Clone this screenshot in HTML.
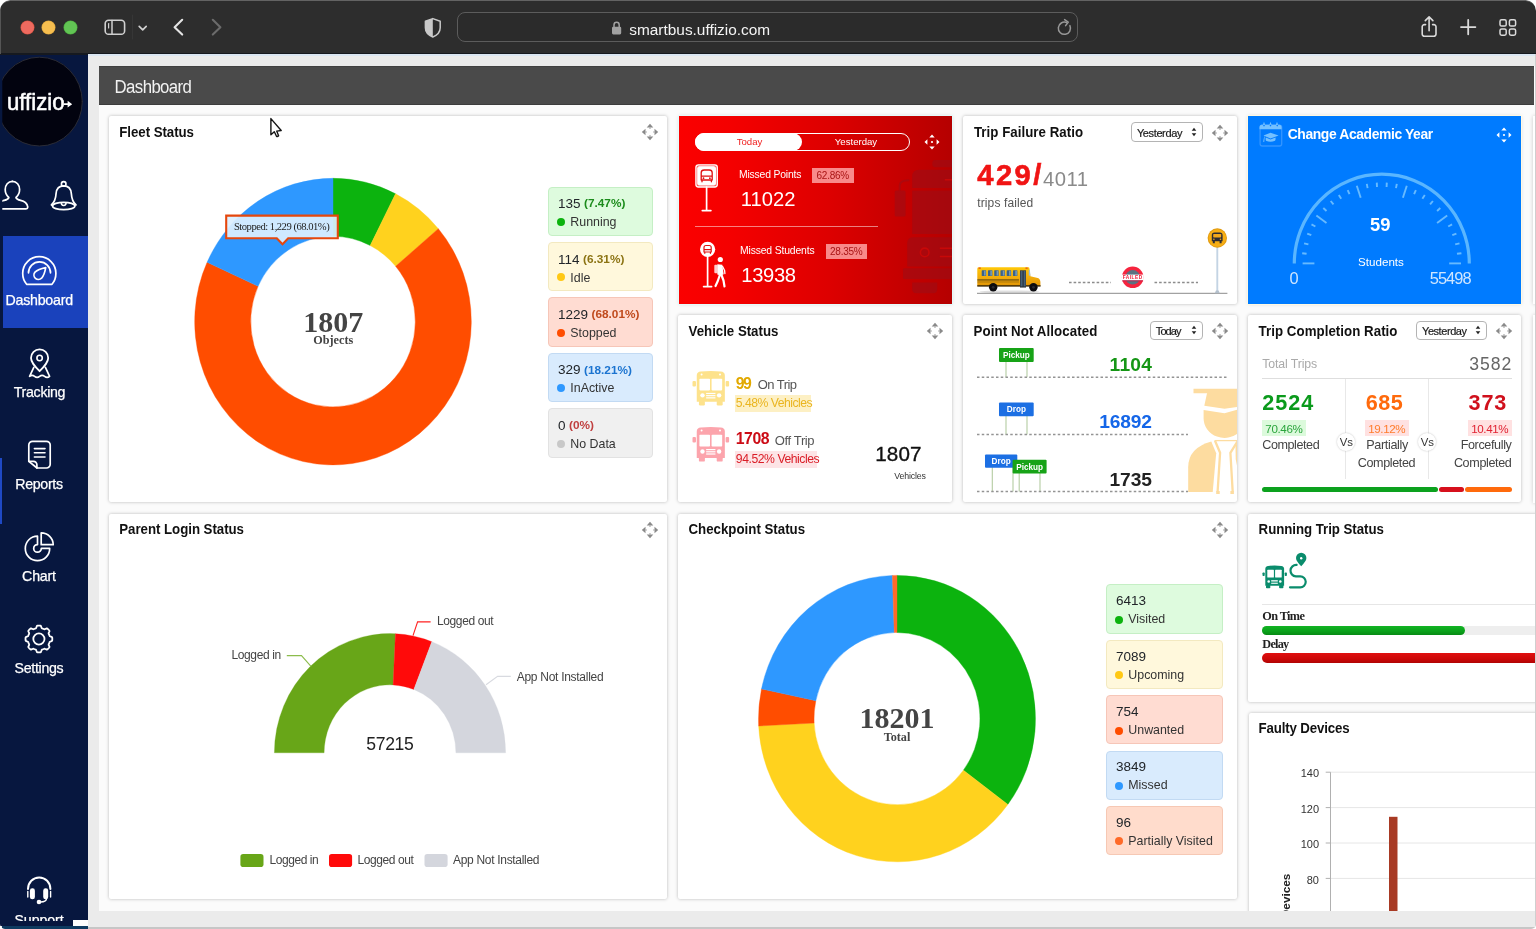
<!DOCTYPE html>
<html lang="en">
<head>
<meta charset="utf-8">
<title>Dashboard</title>
<style>
*{box-sizing:border-box;margin:0;padding:0}
html,body{width:1536px;height:929px;overflow:hidden;background:#fff}
body{position:relative;font-family:"Liberation Sans",sans-serif;color:#222}
.abs{position:absolute}
.t{position:absolute;white-space:nowrap;line-height:1}
svg{overflow:visible}
#win{position:absolute;left:0;top:0;width:1536px;height:929px;border-radius:10.5px 10.5px 5px 5px;overflow:hidden;background:#ebebeb;will-change:transform}
#chrome{position:absolute;left:0;top:0;width:1536px;height:54px;background:#2d2d2d;border-top:1px solid #636363;border-radius:10.5px 10.5px 0 0}
#urlbar{position:absolute;left:457px;top:12.2px;width:621px;height:30px;border:1px solid #5c5c5c;border-radius:8px;background:#2b2b2b}
#side{position:absolute;left:0;top:54.5px;width:87.8px;height:865.5px;background:#07173f}
#content{position:absolute;left:99px;top:66px;width:1437px;height:844.5px;background:#fbfbfb;overflow:hidden}
#inner{position:absolute;left:-99px;top:-66px;width:1536px;height:929px}
#hdr{position:absolute;left:99px;top:66px;width:1435px;height:38.8px;background:#4a4a4a;border-bottom:1px solid #3c3c3c;border-top:1px solid #404040}
.card{position:absolute;background:#fff;border-radius:2px;box-shadow:0 0 3.5px rgba(0,0,0,.27)}
</style>
</head>
<body>
<div id="win">
<div id="chrome"></div>
<div class="abs" style="left:0;top:53px;width:1536px;height:1.5px;background:#16191f"></div>
<div class="abs" style="left:21px;top:21px;width:13px;height:13px;border-radius:50%;background:#ee6a5f;box-shadow:0 0 0 .5px #d0503f"></div>
<div class="abs" style="left:42px;top:21px;width:13px;height:13px;border-radius:50%;background:#f6be4f;box-shadow:0 0 0 .5px #d6a03a"></div>
<div class="abs" style="left:63.5px;top:21px;width:13px;height:13px;border-radius:50%;background:#62c554;box-shadow:0 0 0 .5px #4aa73c"></div>
<div id="urlbar"></div>
<div class="t" style="left:629.3px;top:21.61px;font-size:15.4px;color:#f4f4f4;">smartbus.uffizio.com</div>
<svg class="abs" style="left:0;top:0" width="1536" height="54" viewBox="0 0 1536 54" fill="none" stroke-linecap="round" stroke-linejoin="round">
<rect x="105.2" y="20.3" width="19.4" height="14" rx="3.4" stroke="#cfcfcf" stroke-width="1.6"/>
<path d="M112 20.5v13.6" stroke="#cfcfcf" stroke-width="1.5"/><path d="M108.6 23.5v4.5" stroke="#cfcfcf" stroke-width="1.2"/>
<path d="M132.5 15v24" stroke="#363636" stroke-width="1"/>
<path d="M139.2 26.4l3.5 3.5 3.5-3.5" stroke="#d0d0d0" stroke-width="1.7"/>
<path d="M182.2 19.8l-7.6 7.4 7.6 7.4" stroke="#e4e4e4" stroke-width="2.1"/>
<path d="M212.8 19.8l7.6 7.4-7.6 7.4" stroke="#6b6b6b" stroke-width="2.1"/>
<path d="M432.8 18.6l7.4 2.6v6.6c0 4.4-3 7.4-7.4 9.2c-4.4-1.8-7.4-4.8-7.4-9.2v-6.6z" stroke="#c9c9c9" stroke-width="1.5"/>
<path d="M432.8 18.6v18.4c-4.4-1.8-7.4-4.8-7.4-9.2v-6.6z" fill="#c9c9c9" stroke="none"/>
<rect x="612" y="26.8" width="9.2" height="7.6" rx="1.3" fill="#a2a2a2"/><path d="M614 27v-2.1a2.6 2.6 0 0 1 5.2 0V27" stroke="#a2a2a2" stroke-width="1.5"/>
<path d="M1069.9 25.6a6.1 6.1 0 1 1-3.2-3" stroke="#979797" stroke-width="1.5"/><path d="M1064.6 19.6l3.6 2.6-2.6 3.4" stroke="#979797" stroke-width="1.5"/>
<path d="M1425.6 24.6h-1.2a2.2 2.2 0 0 0-2.2 2.2v7.3a2.2 2.2 0 0 0 2.2 2.2h9.4a2.2 2.2 0 0 0 2.2-2.2v-7.3a2.2 2.2 0 0 0-2.2-2.2h-1.2" stroke="#dadada" stroke-width="1.6"/>
<path d="M1429.1 30.8V17.2M1425.3 20.6l3.8-3.7 3.8 3.7" stroke="#dadada" stroke-width="1.6"/>
<path d="M1461 27.1h14.4M1468.2 19.9v14.4" stroke="#dadada" stroke-width="1.8"/>
<rect x="1500" y="19.8" width="6.2" height="6.2" rx="1.6" stroke="#dadada" stroke-width="1.5"/>
<rect x="1500" y="29" width="6.2" height="6.2" rx="1.6" stroke="#dadada" stroke-width="1.5"/>
<rect x="1509.4" y="19.8" width="6.2" height="6.2" rx="1.6" stroke="#dadada" stroke-width="1.5"/>
<rect x="1509.4" y="29" width="6.2" height="6.2" rx="1.6" stroke="#dadada" stroke-width="1.5"/>
</svg>
<div id="side"></div>
<div class="abs" style="left:0px;top:919.5px;width:73px;height:6.5px;background:#07173f;"></div>
<div class="abs" style="left:73.2px;top:920.3px;width:14.6px;height:6px;background:#fdfdfd;"></div>
<div class="abs" style="left:2px;top:926px;width:86px;height:3px;background:#0d3a60;"></div>
<div class="abs" style="left:2.7px;top:236px;width:85.1px;height:91.6px;background:#1a42bc;"></div>
<div class="abs" style="left:0px;top:458.3px;width:2.3px;height:66px;background:#1f49c4;"></div>
<svg class="abs" style="left:0;top:54px" width="88" height="875" viewBox="0 54 88 875" fill="none" stroke="#fff" stroke-width="1.7" stroke-linecap="round" stroke-linejoin="round">
<defs><clipPath id="cl2"><rect x="2.3" y="54" width="86" height="875"/></clipPath></defs>
<g clip-path="url(#cl2)"><ellipse cx="39.4" cy="101.6" rx="42.9" ry="44.4" fill="#02030f" stroke="#2b2c36" stroke-width="1"/></g>
<path d="M64.2 104.2h4.2" stroke-width="1.7"/><path d="M67.6 100.8l4.6 3.4-4.6 3.4z" fill="#fff" stroke="none"/>
<g clip-path="url(#cl2)"><path d="M12.4 181.4c4.3 0 7.2 3.5 7.2 8.2c0 3.4-1.7 6.3-3.6 7.9c0.4 1.7 2 2.3 4.6 2.9c4.2 1 6.6 3.4 7.1 6.3c0.2 1.5-0.7 2.2-2 2.2H0"/><path d="M12.4 181.4c-4.3 0-7.2 3.5-7.2 8.2c0 3.4 1.7 6.3 3.6 7.9c-0.4 1.7-2 2.3-4.6 2.9c-1.4 0.3-2.4 0.7-3.4 1.2"/></g>
<circle cx="63.7" cy="183.9" r="2.3" stroke-width="1.6"/>
<path d="M51.4 205c3.4-3 4.4-7 4.7-11.6c0.4-4.8 3.2-7.6 7.6-7.6s7.2 2.8 7.6 7.6c0.3 4.6 1.3 8.6 4.7 11.6" stroke-width="1.7"/>
<ellipse cx="63.7" cy="206" rx="11.2" ry="3.7" stroke-width="1.7"/><path d="M61.3 202.8a2.4 2.6 0 0 0 4.8 0" stroke-width="1.5"/>
<path d="M26.6 284.3c-2.6-3-3.9-6.8-3.9-11a16.6 16.6 0 0 1 33.2 0c0 4.2-1.3 8-3.9 11z"/>
<path d="M28.5 272.8a11 11 0 0 1 22 0" stroke-width="1.7"/>
<path d="M45.7 267.7c-0.8 4.7-2 8.2-4.1 10.5a4.5 4.5 0 0 1-6.6-6.1c2.3-2.1 5.8-3.4 10.7-4.4z" stroke-width="1.7"/>
<path d="M39.6 371.2c-5.2-5.3-8.6-8.9-8.6-13.2a8.6 8.6 0 0 1 17.2 0c0 4.3-3.4 7.9-8.6 13.2z" stroke-width="1.8"/><circle cx="39.6" cy="358" r="2.7" stroke-width="1.6"/>
<path d="M33.8 367.3L29.6 376.3q2.5-2 5 0t5 0t5 0t5 0L45.4 367.3" stroke-width="1.7"/>
<path d="M32.6 441.3h13.8a3.8 3.8 0 0 1 3.8 3.8v19.1a3.8 3.8 0 0 1-3.8 3.8h-9.4l-8.2-6.6v-16.3a3.8 3.8 0 0 1 3.8-3.8z"/>
<path d="M28.9 461.3h4.6a3.4 3.4 0 0 1 3.4 3.4v3.2" stroke-width="1.7"/>
<path d="M34.4 448.6h10.6M34.4 452.8h10.6M34.4 457h10.6" stroke-width="1.6"/>
<path d="M37.5 536.2A12.2 12.2 0 1 0 49.7 548.4H41.3A3.8 3.8 0 1 1 37.5 544.6Z"/>
<path d="M41.2 532.9v11.8h12a12 11.8 0 0 0-12-11.8z" stroke-width="1.7"/>
<path d="M38.9 625.6 L39.56 625.62 L40.21 625.66 L40.84 625.92 L41.29 626.99 L41.64 628.06 L42.12 628.38 L42.64 628.55 L43.15 628.74 L43.65 628.97 L44.13 629.21 L44.7 629.32 L45.71 628.81 L46.77 628.38 L47.4 628.64 L47.9 629.07 L48.38 629.52 L48.83 630 L49.26 630.5 L49.52 631.13 L49.09 632.19 L48.58 633.2 L48.69 633.77 L48.93 634.25 L49.16 634.75 L49.35 635.26 L49.52 635.78 L49.84 636.26 L50.91 636.61 L51.98 637.06 L52.24 637.69 L52.28 638.34 L52.3 639 L52.28 639.66 L52.24 640.31 L51.98 640.94 L50.91 641.39 L49.84 641.74 L49.52 642.22 L49.35 642.74 L49.16 643.25 L48.93 643.75 L48.69 644.23 L48.58 644.8 L49.09 645.81 L49.52 646.87 L49.26 647.5 L48.83 648 L48.38 648.48 L47.9 648.93 L47.4 649.36 L46.77 649.62 L45.71 649.19 L44.7 648.68 L44.13 648.79 L43.65 649.03 L43.15 649.26 L42.64 649.45 L42.12 649.62 L41.64 649.94 L41.29 651.01 L40.84 652.08 L40.21 652.34 L39.56 652.38 L38.9 652.4 L38.24 652.38 L37.59 652.34 L36.96 652.08 L36.51 651.01 L36.16 649.94 L35.68 649.62 L35.16 649.45 L34.65 649.26 L34.15 649.03 L33.67 648.79 L33.1 648.68 L32.09 649.19 L31.03 649.62 L30.4 649.36 L29.9 648.93 L29.42 648.48 L28.97 648 L28.54 647.5 L28.28 646.87 L28.71 645.81 L29.22 644.8 L29.11 644.23 L28.87 643.75 L28.64 643.25 L28.45 642.74 L28.28 642.22 L27.96 641.74 L26.89 641.39 L25.82 640.94 L25.56 640.31 L25.52 639.66 L25.5 639 L25.52 638.34 L25.56 637.69 L25.82 637.06 L26.89 636.61 L27.96 636.26 L28.28 635.78 L28.45 635.26 L28.64 634.75 L28.87 634.25 L29.11 633.77 L29.22 633.2 L28.71 632.19 L28.28 631.13 L28.54 630.5 L28.97 630 L29.42 629.52 L29.9 629.07 L30.4 628.64 L31.03 628.38 L32.09 628.81 L33.1 629.32 L33.67 629.21 L34.15 628.97 L34.65 628.74 L35.16 628.55 L35.68 628.38 L36.16 628.06 L36.51 626.99 L36.96 625.92 L37.59 625.66 L38.24 625.62 L38.9 625.6Z" stroke-width="1.8"/><circle cx="38.9" cy="639" r="5.6" stroke-width="1.8"/>
<path d="M28 889a11.2 11.6 0 0 1 22.4 0" stroke-width="2"/>
<rect x="29.9" y="888.3" width="5" height="11" rx="2.4" fill="#fff" stroke="none"/><rect x="43.2" y="888.3" width="5" height="11" rx="2.4" fill="#fff" stroke="none"/>
<path d="M27.8 891.5v5.5M50.6 891.5v5.5" stroke-width="1.4"/>
<path d="M46.5 898.5c0 2.5-2 3.4-6 3.5" stroke-width="1.5"/><circle cx="39" cy="902" r="2.3" fill="#fff" stroke="none"/>
<text x="7" y="110.3" font-family="Liberation Sans, sans-serif" font-size="23.6" fill="#fff" stroke="#fff" stroke-width=".55" textLength="57.5" lengthAdjust="spacingAndGlyphs">uffizio</text>
</svg>
<div class="t" style="left:5.6px;top:292.73px;font-size:14.2px;color:#fff;letter-spacing:-0.246px;-webkit-text-stroke:.25px #fff;">Dashboard</div>
<div class="t" style="left:13.8px;top:384.93px;font-size:14.2px;color:#fff;letter-spacing:-0.317px;-webkit-text-stroke:.25px #fff;">Tracking</div>
<div class="t" style="left:15.2px;top:476.63px;font-size:14.2px;color:#fff;letter-spacing:-0.302px;-webkit-text-stroke:.25px #fff;">Reports</div>
<div class="t" style="left:22.1px;top:568.73px;font-size:14.2px;color:#fff;letter-spacing:-0.18px;-webkit-text-stroke:.25px #fff;">Chart</div>
<div class="t" style="left:14.5px;top:660.73px;font-size:14.2px;color:#fff;letter-spacing:-0.301px;-webkit-text-stroke:.25px #fff;">Settings</div>
<div class="abs" style="left:0;top:905px;width:88px;height:15.5px;overflow:hidden"><div class="t" style="left:14.5px;top:7.63px;font-size:14.2px;color:#fff;letter-spacing:-0.088px;-webkit-text-stroke:.25px #fff;">Support</div></div>
<div class="abs" style="left:88px;top:54.3px;width:1448px;height:1.4px;background:#dbe6f2"></div>
<div id="content"><div id="inner">
<div id="hdr"></div>
<div class="t" style="left:114.6px;top:80.43px;font-size:16.8px;color:#f2f2f2;letter-spacing:-0.598px;transform:scaleY(1.04);transform-origin:0 14.22px;">Dashboard</div>
<div class="abs" style="left:1533.3px;top:116px;width:6px;height:188px;background:#fff;box-shadow:0 0 4px rgba(0,0,0,.2)"></div><div class="abs" style="left:1533.3px;top:315px;width:6px;height:187.5px;background:#fff;box-shadow:0 0 4px rgba(0,0,0,.2)"></div>
<div class="card" style="left:109.2px;top:116.1px;width:558.1px;height:386.3px;"></div>
<div class="t" style="left:119.3px;top:126.19px;font-size:13.3px;color:#111;font-weight:bold;letter-spacing:-0.062px;transform:scaleY(1.06);transform-origin:0 11.26px;">Fleet Status</div>
<svg class="abs" style="left:640.7px;top:123.30000000000001px" width="18" height="18" viewBox="-9 -9 18 18"><g fill="#8a8a8a" transform="scale(1)"><path d="M0-8.2l3.3 3.7h-6.6zM0 8.2l-3.3-3.7h6.6zM-8.2 0l3.7-3.3v6.6zM8.2 0l-3.7 3.3v-6.6z"/><path d="M-.6-4.5h1.2v1.5h-1.2zM-.6 3h1.2v1.5h-1.2zM-4.5-.6h1.5v1.2h-1.5zM3-.6h1.5v1.2h-1.5z" opacity=".7"/></g></svg>
<svg class="abs" style="left:109px;top:116px" width="558" height="387" viewBox="109 116 558 387">
<path d="M333 178.3A138.3 143.3 0 0 1 395.56 193.8L370.23 245.53A82.3 85.3 0 0 0 333 236.3Z" fill="#0cb30e" stroke="#0cb30e" stroke-width=".4"/><path d="M395.56 193.8A138.3 143.3 0 0 1 438.33 228.74L395.68 266.32A82.3 85.3 0 0 0 370.23 245.53Z" fill="#ffd21e" stroke="#ffd21e" stroke-width=".4"/><path d="M438.33 228.74A138.3 143.3 0 1 1 207.11 262.28L258.08 286.29A82.3 85.3 0 1 0 395.68 266.32Z" fill="#ff4d00" stroke="#ff4d00" stroke-width=".4"/><path d="M207.11 262.28A138.3 143.3 0 0 1 333 178.3L333 236.3A82.3 85.3 0 0 0 258.08 286.29Z" fill="#2e98ff" stroke="#2e98ff" stroke-width=".4"/>
<path d="M226.2 215.6H337.8V238.2H288.2L282.5 244.3L276.8 238.2H226.2Z" fill="#dcefff" fill-opacity=".93" stroke="#e5470d" stroke-width="2.1" stroke-linejoin="miter"/>
</svg>
<div class="t" style="left:233.9px;top:222.07px;font-size:10.6px;color:#222;font-family:'Liberation Serif',serif;letter-spacing:-0.486px;">Stopped: 1,229 (68.01%)</div>
<div class="t" style="left:303.3px;top:306.53px;font-size:30px;color:#444;font-family:'Liberation Serif',serif;font-weight:bold;">1807</div>
<div class="t" style="left:313.31px;top:334.43px;font-size:12.2px;color:#444;font-family:'Liberation Serif',serif;font-weight:bold;">Objects</div>
<div class="abs" style="left:548px;top:186.5px;width:104.5px;height:49.6px;background:#defbde;border:1px solid #c5efc5;border-radius:4px"></div><div class="t" style="left:558px;top:197.12px;font-size:13.5px;color:#212529;">135</div><div class="t" style="left:584.02px;top:198.46px;font-size:11.8px;color:#1c8c1c;font-weight:bold;">(7.47%)</div><div class="abs" style="left:557px;top:218px;width:8px;height:8px;border-radius:50%;background:#0cb30e"></div><div class="t" style="left:570.3px;top:216.15px;font-size:12.4px;color:#333;">Running</div>
<div class="abs" style="left:548px;top:241.9px;width:104.5px;height:49.6px;background:#fff8dc;border:1px solid #f3e9c0;border-radius:4px"></div><div class="t" style="left:558px;top:252.52px;font-size:13.5px;color:#212529;">114</div><div class="t" style="left:583.02px;top:253.86px;font-size:11.8px;color:#8c7414;font-weight:bold;">(6.31%)</div><div class="abs" style="left:557px;top:273.4px;width:8px;height:8px;border-radius:50%;background:#ffc814"></div><div class="t" style="left:570.3px;top:271.55px;font-size:12.4px;color:#333;">Idle</div>
<div class="abs" style="left:548px;top:297.3px;width:104.5px;height:49.6px;background:#ffdcd2;border:1px solid #f6c6b8;border-radius:4px"></div><div class="t" style="left:558px;top:307.92px;font-size:13.5px;color:#212529;">1229</div><div class="t" style="left:591.53px;top:309.26px;font-size:11.8px;color:#c04a1c;font-weight:bold;">(68.01%)</div><div class="abs" style="left:557px;top:328.8px;width:8px;height:8px;border-radius:50%;background:#ff4d00"></div><div class="t" style="left:570.3px;top:326.95px;font-size:12.4px;color:#333;">Stopped</div>
<div class="abs" style="left:548px;top:352.7px;width:104.5px;height:49.6px;background:#d9ebfd;border:1px solid #c2daf3;border-radius:4px"></div><div class="t" style="left:558px;top:363.32px;font-size:13.5px;color:#212529;">329</div><div class="t" style="left:584.02px;top:364.66px;font-size:11.8px;color:#1c74d0;font-weight:bold;">(18.21%)</div><div class="abs" style="left:557px;top:384.2px;width:8px;height:8px;border-radius:50%;background:#2e98ff"></div><div class="t" style="left:570.3px;top:382.35px;font-size:12.4px;color:#333;">InActive</div>
<div class="abs" style="left:548px;top:408.1px;width:104.5px;height:49.6px;background:#f0f0f0;border:1px solid #e2e2e2;border-radius:4px"></div><div class="t" style="left:558px;top:418.72px;font-size:13.5px;color:#212529;">0</div><div class="t" style="left:569.01px;top:420.06px;font-size:11.8px;color:#c04040;font-weight:bold;">(0%)</div><div class="abs" style="left:557px;top:439.6px;width:8px;height:8px;border-radius:50%;background:#c8c8c8"></div><div class="t" style="left:570.3px;top:437.75px;font-size:12.4px;color:#333;">No Data</div>
<svg class="abs" style="left:266px;top:114px" width="20" height="26" viewBox="266 114 20 26"><path d="M270.9 118.6V134.8L274.3 131.7L276.5 136.3Q277.6 136.9 278.6 135.8L276.7 131.1L281.2 130.5Z" fill="#fff" stroke="#141414" stroke-width="1.4" stroke-linejoin="round"/></svg>
<div class="abs" style="left:678.5px;top:116.3px;width:273.8px;height:187.6px;background:linear-gradient(90deg,#fb0000 0%,#f40000 20%,#dd0000 55%,#b50000 100%);box-shadow:0 0 0 1px #e4fbfb,0 0 4px rgba(0,0,0,.15)"></div>
<svg class="abs" style="left:678.5px;top:116.3px;overflow:hidden" width="273.8" height="187.6" viewBox="678.5 116.3 273.8 187.6"><g fill="#96101a" fill-opacity=".5"><rect x="931.8" y="160.4" width="30" height="7.2" rx="3"/><path d="M911.7 188.4V176.7Q911.7 170 918.7 170H960V188.4Z"/><rect x="911.7" y="190.9" width="50" height="43.4"/><rect x="894.2" y="190.9" width="10.9" height="25.9" rx="1.5"/><path d="M906.7 266.9V243.5Q906.7 237.6 913.1 237.6H960V266.9Z"/><rect x="902.5" y="268.5" width="60" height="10.9" rx="1"/><path d="M911.7 282.7H936.8V289.4Q936.8 293.6 932.6 293.6H915.9Q911.7 293.6 911.7 289.4Z"/></g><path d="M899.2 190.9V185.9Q899.2 180.6 908.7 180.6" fill="none" stroke="#96101a" stroke-opacity=".5" stroke-width="2"/><circle cx="924.2" cy="252.7" r="4.3" fill="none" stroke="#c80808" stroke-width="1.6"/><path d="M939.3 248.5H960M939.3 256.8H960M944.3 180.1H960" stroke="#c80808" stroke-width="1.5"/></svg>
<div class="abs" style="left:694.8px;top:133.3px;width:215.4px;height:17.7px;border:1.6px solid #fff;border-radius:9px"></div>
<div class="abs" style="left:694.8px;top:133.3px;width:107.6px;height:17.7px;background:#fff;border-radius:9px"></div>
<div class="t" style="left:736.69px;top:136.82px;font-size:9.6px;color:#f02020;">Today</div>
<div class="t" style="left:834.83px;top:136.82px;font-size:9.6px;color:#fff;">Yesterday</div>
<svg class="abs" style="left:923px;top:132.7px" width="18" height="18" viewBox="-9 -9 18 18"><g fill="#fff"><path d="M0-7.5l2.7 2.9h-5.4zM0 7.5l-2.7-2.9h5.4zM-7.5 0l2.9-2.7v5.4zM7.5 0l-2.9 2.7v-5.4z"/><circle r="1.1"/></g></svg>
<svg class="abs" style="left:690px;top:160px" width="40" height="130" viewBox="690 160 40 130" fill="none" stroke="#fff" stroke-linecap="round" stroke-linejoin="round"><rect x="695.9" y="164.8" width="21.4" height="22.2" rx="2.5" stroke-width="1.3" fill="#fff" fill-opacity=".35"/><rect x="697.8" y="166.8" width="17.6" height="18.2" rx="1.5" stroke-width="1.1" fill="#fff"/><path d="M701.2 180v-7.2c0-1.8 1.2-2.8 3-2.8h5c1.8 0 3 1 3 2.8v7.2zM701.2 176.2h11M702 181.8v-1.6M711.4 181.8v-1.6" stroke="#e01010" stroke-width="1.3"/><circle cx="703.5" cy="178.2" r=".900" fill="#e01010" stroke="none"/><circle cx="709.9" cy="178.2" r=".900" fill="#e01010" stroke="none"/><path d="M706.6 187.2v23.3M702.3 210.6h8.6" stroke-width="1.7"/><circle cx="707.6" cy="249.3" r="7.6" stroke="none" fill="#fff"/><path d="M704 252v-4.6c0-1.2.8-1.9 1.9-1.9h3.4c1.1 0 1.9.7 1.9 1.9v4.6zM704 249.6h7.2M704.8 253.3v-1M710.4 253.3v-1" stroke="#e01010" stroke-width="1.2"/><path d="M707.6 256.5v30M703.6 286.6h8" stroke-width="1.7"/><circle cx="720.3" cy="259.5" r="2.6" fill="#fff" stroke="none"/><path d="M717.3 264.3l5 0.5 1.4 9.5-3 1.2-3.4-1z" fill="#fff" stroke="none"/><rect x="714.3" y="264.8" width="3.3" height="8.5" rx="1" fill="#fff" fill-opacity=".8" stroke="none"/><path d="M720 274.5l-2.2 6.5-2.3 5M721.3 274.5l2.2 6 1 6" stroke-width="2.2"/><path d="M722.6 266.5l2 4 .300 3" stroke-width="1.3"/></svg>
<div class="t" style="left:739px;top:169.85px;font-size:10.4px;color:#fff;letter-spacing:-0.187px;">Missed Points</div>
<div class="abs" style="left:812px;top:168.3px;width:41.6px;height:15.2px;background:#f88a8a;"></div>
<div class="t" style="left:816.5px;top:171.38px;font-size:10px;color:#a81414;letter-spacing:-0.244px;">62.86%</div>
<div class="t" style="left:740.7px;top:188.85px;font-size:20.2px;color:#fff;letter-spacing:0.03px;">11022</div>
<div class="abs" style="left:694.9px;top:226px;width:183.5px;height:1px;background:rgba(255,255,255,.5);"></div>
<div class="t" style="left:740px;top:245.85px;font-size:10.4px;color:#fff;letter-spacing:-0.156px;">Missed Students</div>
<div class="abs" style="left:825.5px;top:244px;width:41.6px;height:15.4px;background:#f88a8a;"></div>
<div class="t" style="left:830px;top:247.19px;font-size:10px;color:#a81414;letter-spacing:-0.244px;">28.35%</div>
<div class="t" style="left:741.3px;top:264.55px;font-size:20.2px;color:#fff;letter-spacing:-0.344px;">13938</div>
<div class="card" style="left:963.4px;top:116.1px;width:274.1px;height:187.7px;"></div>
<div class="t" style="left:973.9px;top:126.19px;font-size:13.3px;color:#111;font-weight:bold;letter-spacing:0.033px;transform:scaleY(1.06);transform-origin:0 11.26px;">Trip Failure Ratio</div>
<div class="abs" style="left:1131.3px;top:122.4px;width:71.3px;height:19.5px;border:1.3px solid #b4b4b4;border-radius:4px;background:#fff"></div><div class="t" style="left:1136.9px;top:127.94px;font-size:11px;color:#1a1a1a;letter-spacing:-0.378px;-webkit-text-stroke:.2px #1a1a1a;">Yesterday</div><svg class="abs" style="left:1190.1px;top:126.15px" width="8" height="12" viewBox="-4 -6 8 12"><path d="M-2.3-1.3L0-4.3 2.3-1.3zM-2.3 1.3L0 4.3 2.3 1.3z" fill="#222"/></svg>
<svg class="abs" style="left:1211px;top:123.5px" width="18" height="18" viewBox="-9 -9 18 18"><g fill="#8a8a8a" transform="scale(1)"><path d="M0-8.2l3.3 3.7h-6.6zM0 8.2l-3.3-3.7h6.6zM-8.2 0l3.7-3.3v6.6zM8.2 0l-3.7 3.3v-6.6z"/><path d="M-.6-4.5h1.2v1.5h-1.2zM-.6 3h1.2v1.5h-1.2zM-4.5-.6h1.5v1.2h-1.5zM3-.6h1.5v1.2h-1.5z" opacity=".7"/></g></svg>
<div class="t" style="left:977.3px;top:161.33px;font-size:29.2px;color:#f01414;font-weight:bold;letter-spacing:2.426px;-webkit-text-stroke:.6px #f01414;">429/</div>
<div class="t" style="left:1043px;top:168.87px;font-size:20.3px;color:#8a8a8a;letter-spacing:0.452px;">4011</div>
<div class="t" style="left:977.3px;top:196.99px;font-size:12px;color:#555;letter-spacing:0.109px;">trips failed</div>
<svg class="abs" style="left:963px;top:116px" width="274.3" height="188" viewBox="963 116 274.3 188">
<path d="M977 293.4H1227.4" stroke="#a2a2a2" stroke-width="1.3"/>
<path d="M1069 282.4H1111M1154.5 282.4H1198" stroke="#8c8c8c" stroke-width="1.5" stroke-dasharray="2.6 2"/>
<defs><linearGradient id="busg" x1="0" y1="0" x2="0" y2="1"><stop offset="0" stop-color="#ffc808"/><stop offset=".55" stop-color="#f2ac0a"/><stop offset="1" stop-color="#e09406"/></linearGradient></defs>
<ellipse cx="1009.58" cy="291.72" rx="30" ry="1.3" fill="#000" fill-opacity=".13"/>
<path d="M977.29 268.65Q977.29 267.19 979.11 267.19H1028.33Q1029.38 267.19 1029.48 268.65L1030.42 276.35L1037.71 277.92Q1040.31 278.7 1040.42 282.08V286.25H977.29Z" fill="url(#busg)"/>
<rect x="977.29" y="279.38" width="41.67" height="1.1" fill="#3a2c10" fill-opacity=".8"/><rect x="977.29" y="281.56" width="41.67" height=".800" fill="#3a2c10" fill-opacity=".45"/><rect x="977.29" y="285.21" width="63.28" height="1.4" fill="#1a1408" fill-opacity=".85"/>
<rect x="981.72" y="270.36" width="4.4" height="5.7" rx=".500" fill="#3c6288"/><rect x="984.06" y="270.62" width="1.6" height="5" fill="#8fb0cc" fill-opacity=".7"/>
<rect x="987.97" y="270.36" width="4.4" height="5.7" rx=".500" fill="#3c6288"/><rect x="990.31" y="270.62" width="1.6" height="5" fill="#8fb0cc" fill-opacity=".7"/>
<rect x="994.22" y="270.36" width="4.4" height="5.7" rx=".500" fill="#3c6288"/><rect x="996.56" y="270.62" width="1.6" height="5" fill="#8fb0cc" fill-opacity=".7"/>
<rect x="1000.47" y="270.36" width="4.4" height="5.7" rx=".500" fill="#3c6288"/><rect x="1002.81" y="270.62" width="1.6" height="5" fill="#8fb0cc" fill-opacity=".7"/>
<rect x="1006.72" y="270.36" width="4.4" height="5.7" rx=".500" fill="#3c6288"/><rect x="1009.06" y="270.62" width="1.6" height="5" fill="#8fb0cc" fill-opacity=".7"/>
<rect x="1012.97" y="270.36" width="4.4" height="5.7" rx=".500" fill="#3c6288"/><rect x="1015.31" y="270.62" width="1.6" height="5" fill="#8fb0cc" fill-opacity=".7"/>
<rect x="1020" y="270.36" width="6" height="17.2" fill="#2c3238"/><rect x="1020.62" y="270.89" width="1.9" height="15.5" fill="#456078"/><rect x="1023.65" y="270.89" width="1.9" height="15.5" fill="#456078"/>
<path d="M1028.75 269.84L1029.9 270.1L1030.42 275.83L1028.75 275.57Z" fill="#9cc0e0"/>
<rect x="978.59" y="267.5" width="2.2" height="1.3" fill="#e8501a"/><rect x="1025.47" y="267.5" width="2.2" height="1.3" fill="#e8501a"/>
<circle cx="993.18" cy="287.29" r="4.2" fill="#0c0c10"/><circle cx="993.18" cy="287.29" r="1.4" fill="#2a2a30"/>
<circle cx="1033.44" cy="287.29" r="4.2" fill="#0c0c10"/><circle cx="1033.44" cy="287.29" r="1.4" fill="#2a2a30"/>
<circle cx="1132.7" cy="277.3" r="10.8" fill="#f6243e"/><circle cx="1132.7" cy="277.3" r="7.3" fill="#5c7282"/>
<rect x="1121.7" y="274.6" width="22" height="5.8" fill="#fff"/><rect x="1122.3" y="280.4" width="20.8" height=".900" fill="#c0204a"/>
<text x="1132.7" y="279.3" font-family="Liberation Sans, sans-serif" font-weight="bold" font-size="4.8" fill="#f0203c" text-anchor="middle" letter-spacing=".5">FAILED</text>
<path d="M1217.3 246v47" stroke="#c4d4e4" stroke-width="1.9"/><path d="M1214.8 293.2l1.2-2.8h2.6l1.2 2.8z" fill="#b4c0cc"/>
<circle cx="1217.3" cy="238" r="9.7" fill="#e09a10"/><circle cx="1217.3" cy="238" r="8.7" fill="#f7ae14"/>
<path d="M1211.8 241.2v-6q0-2.7 2.7-2.7h5.4q2.7 0 2.7 2.7v6zM1212.8 243.2v-2h2v2zM1219.6 243.2v-2h2v2z" fill="#2c2c34"/><rect x="1213.2" y="234" width="8" height="3.4" rx=".600" fill="#f2a81c"/><circle cx="1213.9" cy="239.3" r=".800" fill="#f2a81c"/><circle cx="1220.5" cy="239.3" r=".800" fill="#f2a81c"/>
</svg>
<div class="abs" style="left:1248.1px;top:116.1px;width:273.1px;height:187.7px;background:#007bff;box-shadow:0 0 0 1px #fff9e2,0 0 4px rgba(0,0,0,.15)"></div>
<div class="t" style="left:1287.7px;top:127.88px;font-size:13.9px;color:#fff;font-weight:bold;letter-spacing:-0.388px;">Change Academic Year</div>
<svg class="abs" style="left:1495px;top:125.9px" width="18" height="18" viewBox="-9 -9 18 18"><g fill="#fff"><path d="M0-7.5l2.7 2.9h-5.4zM0 7.5l-2.7-2.9h5.4zM-7.5 0l2.9-2.7v5.4zM7.5 0l-2.9 2.7v-5.4z"/><circle r="1.1"/></g></svg>
<svg class="abs" style="left:1248.5px;top:116px" width="272.7" height="188" viewBox="1248.5 116 272.7 188" fill="none" stroke-linecap="butt">
<rect x="1259.6" y="125.2" width="21.6" height="20.8" rx="2.2" stroke="#fff" stroke-opacity=".2" stroke-width="1.3"/>
<path d="M1259 129.3v-2.3q0-2 2-2.2l1.4-.1 1.1-3 1.1 3h4.3l1.1-3 1.1 3h4.3l1.1-3 1.1 3 1.5.1q2 .2 2 2.2v2.3z" fill="#74c0ff" stroke="none"/>
<circle cx="1263.5" cy="125.6" r=".800" fill="#007bff"/><circle cx="1270" cy="125.6" r=".800" fill="#007bff"/><circle cx="1276.7" cy="125.6" r=".800" fill="#007bff"/>
<path d="M1263 135.6l7-2.9 8.1 2.9-8.1 2.9zM1265.3 137.6l4.7 1.8 5-1.8q.3 2-.5 3.1q-4.5 2-9 0q-.6-1.5-.2-3.1zM1263.7 136.4l.5.2-.5 5.4-1-.3z" fill="#74c0ff" stroke="none"/>
<path d="M1293.8 263.4A87.5 89.3 0 0 1 1468.8 263.4" stroke="#5ab6ff" stroke-width="3.2" stroke-linecap="butt"/>
<path d="M1313.9 263.4L1302.1 263.4" stroke="#66baff" stroke-width="1.9"/>
<path d="M1306.1 253.8L1301.7 253.2" stroke="#66baff" stroke-width="1.9"/>
<path d="M1307.9 244.4L1303.6 243.3" stroke="#66baff" stroke-width="1.9"/>
<path d="M1310.8 235.2L1306.7 233.6" stroke="#66baff" stroke-width="1.9"/>
<path d="M1314.9 226.5L1311 224.4" stroke="#66baff" stroke-width="1.9"/>
<path d="M1326 222.9L1315.9 215.4" stroke="#66baff" stroke-width="1.9"/>
<path d="M1326 211L1322.8 208" stroke="#66baff" stroke-width="1.9"/>
<path d="M1333 204.4L1330.2 201" stroke="#66baff" stroke-width="1.9"/>
<path d="M1340.7 198.8L1338.3 195" stroke="#66baff" stroke-width="1.9"/>
<path d="M1349 194.1L1347.2 190.1" stroke="#66baff" stroke-width="1.9"/>
<path d="M1360.2 197.8L1356.3 185.8" stroke="#66baff" stroke-width="1.9"/>
<path d="M1367.1 188.2L1366.3 183.8" stroke="#66baff" stroke-width="1.9"/>
<path d="M1376.5 187L1376.3 182.6" stroke="#66baff" stroke-width="1.9"/>
<path d="M1386.1 187L1386.3 182.6" stroke="#66baff" stroke-width="1.9"/>
<path d="M1395.5 188.2L1396.3 183.8" stroke="#66baff" stroke-width="1.9"/>
<path d="M1402.4 197.8L1406.3 185.8" stroke="#66baff" stroke-width="1.9"/>
<path d="M1413.6 194.1L1415.4 190.1" stroke="#66baff" stroke-width="1.9"/>
<path d="M1421.9 198.8L1424.3 195" stroke="#66baff" stroke-width="1.9"/>
<path d="M1429.6 204.4L1432.4 201" stroke="#66baff" stroke-width="1.9"/>
<path d="M1436.6 211L1439.8 208" stroke="#66baff" stroke-width="1.9"/>
<path d="M1436.6 222.9L1446.7 215.4" stroke="#66baff" stroke-width="1.9"/>
<path d="M1447.7 226.5L1451.6 224.4" stroke="#66baff" stroke-width="1.9"/>
<path d="M1451.8 235.2L1455.9 233.6" stroke="#66baff" stroke-width="1.9"/>
<path d="M1454.7 244.4L1459 243.3" stroke="#66baff" stroke-width="1.9"/>
<path d="M1456.5 253.8L1460.9 253.2" stroke="#66baff" stroke-width="1.9"/>
<path d="M1448.7 263.4L1460.5 263.4" stroke="#66baff" stroke-width="1.9"/>
</svg>
<div class="t" style="left:1370.07px;top:216.37px;font-size:18.4px;color:#fff;font-weight:bold;">59</div>
<div class="t" style="left:1358.11px;top:256.13px;font-size:11.6px;color:#fff;">Students</div>
<div class="t" style="left:1289.5px;top:270.17px;font-size:16.4px;color:#cfe6ff;">0</div>
<div class="t" style="left:1429.7px;top:270.17px;font-size:16.4px;color:#cfe6ff;letter-spacing:-0.902px;">55498</div>
<div class="card" style="left:678.4px;top:315.3px;width:273.9px;height:187.1px;"></div>
<div class="t" style="left:688.6px;top:325.09px;font-size:13.3px;color:#111;font-weight:bold;letter-spacing:-0.03px;transform:scaleY(1.06);transform-origin:0 11.26px;">Vehicle Status</div>
<svg class="abs" style="left:926px;top:321.5px" width="18" height="18" viewBox="-9 -9 18 18"><g fill="#8a8a8a" transform="scale(1)"><path d="M0-8.2l3.3 3.7h-6.6zM0 8.2l-3.3-3.7h6.6zM-8.2 0l3.7-3.3v6.6zM8.2 0l-3.7 3.3v-6.6z"/><path d="M-.6-4.5h1.2v1.5h-1.2zM-.6 3h1.2v1.5h-1.2zM-4.5-.6h1.5v1.2h-1.5zM3-.6h1.5v1.2h-1.5z" opacity=".7"/></g></svg>
<svg class="abs" style="left:691.8px;top:371px" width="37.6" height="34.8" viewBox="0 0 38 35" preserveAspectRatio="none"><g fill="#fde28c"><path d="M4.8 4.5Q4.8 0.8 9 0.5Q19 -0.5 29 0.5Q33.2 0.8 33.2 4.5V31H4.8Z"/><rect x="0.5" y="10" width="3.5" height="5.5" rx="1"/><rect x="34" y="10" width="3.5" height="5.5" rx="1"/><rect x="7" y="30" width="6" height="4.6" rx="1.2"/><rect x="25" y="30" width="6" height="4.6" rx="1.2"/></g><g fill="#fff"><rect x="7.5" y="7.8" width="10.7" height="11.7" rx=".800"/><rect x="19.8" y="7.8" width="10.7" height="11.7" rx=".800"/><circle cx="10.6" cy="24.5" r="2.2"/><circle cx="27.4" cy="24.5" r="2.2"/><rect x="14.3" y="22" width="9.4" height="1.2"/><rect x="14.3" y="24.2" width="9.4" height="1.2"/><rect x="14.3" y="26.4" width="9.4" height="1.2"/><circle cx="9.7" cy="3.6" r="1"/><circle cx="28.3" cy="3.6" r="1"/></g></svg>
<div class="t" style="left:735.8px;top:375.58px;font-size:15.8px;color:#e2a900;font-weight:bold;letter-spacing:-1.67px;">99</div>
<div class="t" style="left:757.8px;top:377.95px;font-size:13px;color:#555;letter-spacing:-0.571px;">On Trip</div>
<div class="abs" style="left:735px;top:394.9px;width:75.6px;height:17.2px;background:#fdf0c4;"></div>
<div class="t" style="left:735.8px;top:396.72px;font-size:12.2px;color:#eab520;letter-spacing:-0.494px;">5.48% Vehicles</div>
<svg class="abs" style="left:691.8px;top:427px" width="37.6" height="35" viewBox="0 0 38 35" preserveAspectRatio="none"><g fill="#fca4ac"><path d="M4.8 4.5Q4.8 0.8 9 0.5Q19 -0.5 29 0.5Q33.2 0.8 33.2 4.5V31H4.8Z"/><rect x="0.5" y="10" width="3.5" height="5.5" rx="1"/><rect x="34" y="10" width="3.5" height="5.5" rx="1"/><rect x="7" y="30" width="6" height="4.6" rx="1.2"/><rect x="25" y="30" width="6" height="4.6" rx="1.2"/></g><g fill="#fff"><rect x="7.5" y="7.8" width="10.7" height="11.7" rx=".800"/><rect x="19.8" y="7.8" width="10.7" height="11.7" rx=".800"/><circle cx="10.6" cy="24.5" r="2.2"/><circle cx="27.4" cy="24.5" r="2.2"/><rect x="14.3" y="22" width="9.4" height="1.2"/><rect x="14.3" y="24.2" width="9.4" height="1.2"/><rect x="14.3" y="26.4" width="9.4" height="1.2"/><circle cx="9.7" cy="3.6" r="1"/><circle cx="28.3" cy="3.6" r="1"/></g></svg>
<div class="t" style="left:735.8px;top:431.48px;font-size:15.8px;color:#cc0c16;font-weight:bold;letter-spacing:-0.485px;">1708</div>
<div class="t" style="left:774.8px;top:433.85px;font-size:13px;color:#555;letter-spacing:-0.369px;">Off Trip</div>
<div class="abs" style="left:735px;top:450.8px;width:81.5px;height:17.4px;background:#fde4e6;"></div>
<div class="t" style="left:735.8px;top:452.52px;font-size:12.2px;color:#da1c26;letter-spacing:-0.443px;">94.52% Vehicles</div>
<div class="t" style="left:875.2px;top:443.91px;font-size:20.6px;color:#111;letter-spacing:0.155px;-webkit-text-stroke:.35px #111;">1807</div>
<div class="t" style="left:894.3px;top:471.9px;font-size:8.8px;color:#333;letter-spacing:-0.183px;">Vehicles</div>
<div class="card" style="left:963.4px;top:315.3px;width:274.1px;height:187.1px;overflow:hidden"></div>
<div class="t" style="left:973.6px;top:325.09px;font-size:13.3px;color:#111;font-weight:bold;letter-spacing:0.086px;transform:scaleY(1.06);transform-origin:0 11.26px;">Point Not Allocated</div>
<div class="abs" style="left:1149.8px;top:320.8px;width:52.8px;height:19.3px;border:1.3px solid #b4b4b4;border-radius:4px;background:#fff"></div><div class="t" style="left:1155.8px;top:326.14px;font-size:11px;color:#1a1a1a;letter-spacing:-0.912px;-webkit-text-stroke:.2px #1a1a1a;">Today</div><svg class="abs" style="left:1190.1px;top:324.45px" width="8" height="12" viewBox="-4 -6 8 12"><path d="M-2.3-1.3L0-4.3 2.3-1.3zM-2.3 1.3L0 4.3 2.3 1.3z" fill="#222"/></svg>
<svg class="abs" style="left:1211px;top:321.5px" width="18" height="18" viewBox="-9 -9 18 18"><g fill="#8a8a8a" transform="scale(1)"><path d="M0-8.2l3.3 3.7h-6.6zM0 8.2l-3.3-3.7h6.6zM-8.2 0l3.7-3.3v6.6zM8.2 0l-3.7 3.3v-6.6z"/><path d="M-.6-4.5h1.2v1.5h-1.2zM-.6 3h1.2v1.5h-1.2zM-4.5-.6h1.5v1.2h-1.5zM3-.6h1.5v1.2h-1.5z" opacity=".7"/></g></svg>
<svg class="abs" style="left:963px;top:315px;overflow:hidden" width="274.3" height="187.5" viewBox="963 315 274.3 187.5">
<path d="M1006 361V377.3M1027 361V377.3" stroke="#b4cca2" stroke-width="1.1"/>
<rect x="999" y="348" width="34.7" height="14" rx="1" fill="#17a317"/>
<text x="1016.35" y="357.9" font-family="Liberation Sans, sans-serif" font-weight="bold" font-size="8.2" fill="#fff" text-anchor="middle">Pickup</text>
<path d="M1006 415.3V434.5M1027 415.3V434.5" stroke="#b4cca2" stroke-width="1.1"/>
<rect x="999" y="402.6" width="34.7" height="13.7" rx="1" fill="#1c6fe3"/>
<text x="1016.35" y="412.35" font-family="Liberation Sans, sans-serif" font-weight="bold" font-size="8.2" fill="#fff" text-anchor="middle">Drop</text>
<path d="M992.3 466.8V491.5M1013 466.8V491.5" stroke="#b4cca2" stroke-width="1.1"/>
<rect x="985" y="454.6" width="32.3" height="13.2" rx="1" fill="#1c6fe3"/>
<text x="1001.15" y="464.1" font-family="Liberation Sans, sans-serif" font-weight="bold" font-size="8.2" fill="#fff" text-anchor="middle">Drop</text>
<path d="M1019.2 472.5V491.5M1040 472.5V491.5" stroke="#b4cca2" stroke-width="1.1"/>
<rect x="1012.6" y="459.8" width="34" height="13.7" rx="1" fill="#17a317"/>
<text x="1029.6" y="469.55" font-family="Liberation Sans, sans-serif" font-weight="bold" font-size="8.2" fill="#fff" text-anchor="middle">Pickup</text>
<path d="M977 377.3H1227.5M977 434.5H1188M977 491.5H1188" stroke="#949494" stroke-width="1.5" stroke-dasharray="2.5 2.25"/>
<g fill="#fddca0"><path d="M1193.5 388.7H1240V393.2H1193.5Z"/><path d="M1207.1 392.9H1240V406.5L1224.5 408.8 1204.3 405.8Z"/><path d="M1203.6 410L1224.5 413.2L1240 409V431.6A21 19.6 0 0 1 1203.6 418.4Z"/><path d="M1211.3 441.4Q1188.2 447.7 1188.2 467.3V491.9H1212.7L1216.2 453.3Z"/><path d="M1235.5 444.9L1240 442.1V481.3L1235.7 458.9Z"/></g><g fill="none" stroke="#fddca0" stroke-width="2.3" stroke-linejoin="miter"><path d="M1215 440.7L1220.1 452.8 1217.6 491.9M1240 437.2L1230.4 452.8 1232.7 491.9"/><path d="M1214.5 440.6H1240" stroke-width="1.3"/></g><path d="M1216.2 490.9h3.5v3h-3.5zM1230.4 490.9h3.5v3h-3.5z" fill="#fddca0"/>
</svg>
<div class="t" style="left:1109.6px;top:355.1px;font-size:19.2px;color:#159615;font-weight:bold;letter-spacing:0.218px;">1104</div>
<div class="t" style="left:1099.2px;top:412.3px;font-size:19.2px;color:#1566e8;font-weight:bold;letter-spacing:-0.174px;">16892</div>
<div class="t" style="left:1109.6px;top:469.5px;font-size:19.2px;color:#222;font-weight:bold;letter-spacing:-0.14px;">1735</div>
<div class="card" style="left:1248.4px;top:315.3px;width:273px;height:187.1px;"></div>
<div class="t" style="left:1258.6px;top:325.09px;font-size:13.3px;color:#111;font-weight:bold;letter-spacing:0.036px;transform:scaleY(1.06);transform-origin:0 11.26px;">Trip Completion Ratio</div>
<div class="abs" style="left:1416px;top:320.8px;width:70.6px;height:19.3px;border:1.3px solid #b4b4b4;border-radius:4px;background:#fff"></div><div class="t" style="left:1422px;top:326.14px;font-size:11px;color:#1a1a1a;letter-spacing:-0.44px;-webkit-text-stroke:.2px #1a1a1a;">Yesterday</div><svg class="abs" style="left:1474.1px;top:324.45px" width="8" height="12" viewBox="-4 -6 8 12"><path d="M-2.3-1.3L0-4.3 2.3-1.3zM-2.3 1.3L0 4.3 2.3 1.3z" fill="#222"/></svg>
<svg class="abs" style="left:1495px;top:321.5px" width="18" height="18" viewBox="-9 -9 18 18"><g fill="#8a8a8a" transform="scale(1)"><path d="M0-8.2l3.3 3.7h-6.6zM0 8.2l-3.3-3.7h6.6zM-8.2 0l3.7-3.3v6.6zM8.2 0l-3.7 3.3v-6.6z"/><path d="M-.6-4.5h1.2v1.5h-1.2zM-.6 3h1.2v1.5h-1.2zM-4.5-.6h1.5v1.2h-1.5zM3-.6h1.5v1.2h-1.5z" opacity=".7"/></g></svg>
<div class="t" style="left:1262.3px;top:357.54px;font-size:12.3px;color:#aaa;letter-spacing:-0.115px;">Total Trips</div>
<div class="t" style="left:1469.2px;top:356.05px;font-size:17.6px;color:#666;letter-spacing:0.98px;">3582</div>
<div class="abs" style="left:1262px;top:378.2px;width:250px;height:1px;background:#dedede;"></div>
<div class="abs" style="left:1345px;top:378.5px;width:1px;height:100.5px;background:#e8e8e8;"></div>
<div class="abs" style="left:1428px;top:378.5px;width:1px;height:100.5px;background:#e8e8e8;"></div>
<div class="t" style="left:1262.3px;top:391.77px;font-size:21.6px;color:#0b9a1c;font-weight:bold;letter-spacing:1.013px;">2524</div>
<div class="abs" style="left:1262px;top:419.9px;width:43.6px;height:16.3px;background:#dcfadc;"></div>
<div class="t" style="left:1265.3px;top:422.83px;font-size:11.6px;color:#2aa53c;letter-spacing:-0.369px;">70.46%</div>
<div class="t" style="left:1262.3px;top:439.48px;font-size:12.6px;color:#444;letter-spacing:-0.442px;">Completed</div>
<div class="abs" style="left:1337.3px;top:432.8px;width:18px;height:18px;border-radius:50%;background:#fff;box-shadow:0 0 2px rgba(0,0,0,.25)"></div>
<div class="t" style="left:1339.65px;top:436.5px;font-size:11.4px;color:#333;">Vs</div>
<div class="abs" style="left:1418.3px;top:432.8px;width:18px;height:18px;border-radius:50%;background:#fff;box-shadow:0 0 2px rgba(0,0,0,.25)"></div>
<div class="t" style="left:1420.65px;top:436.5px;font-size:11.4px;color:#333;">Vs</div>
<div class="t" style="left:1365.7px;top:391.77px;font-size:21.6px;color:#ff6a0c;font-weight:bold;letter-spacing:0.486px;">685</div>
<div class="abs" style="left:1365px;top:419.9px;width:43.5px;height:16.3px;background:#ffe1e1;"></div>
<div class="t" style="left:1368.3px;top:422.83px;font-size:11.6px;color:#ff7c2c;letter-spacing:-0.429px;">19.12%</div>
<div class="t" style="left:1366.2px;top:439.48px;font-size:12.6px;color:#444;letter-spacing:-0.327px;">Partially</div>
<div class="t" style="left:1357.8px;top:457.28px;font-size:12.6px;color:#444;letter-spacing:-0.392px;">Completed</div>
<div class="t" style="left:1468.6px;top:391.77px;font-size:21.6px;color:#d0101c;font-weight:bold;letter-spacing:0.836px;">373</div>
<div class="abs" style="left:1468px;top:419.9px;width:43.5px;height:16.3px;background:#ffe1e1;"></div>
<div class="t" style="left:1471.3px;top:422.83px;font-size:11.6px;color:#e02232;letter-spacing:-0.429px;">10.41%</div>
<div class="t" style="left:1460.7px;top:439.48px;font-size:12.6px;color:#444;letter-spacing:-0.38px;">Forcefully</div>
<div class="t" style="left:1453.9px;top:457.28px;font-size:12.6px;color:#444;letter-spacing:-0.367px;">Completed</div>
<div class="abs" style="left:1262px;top:487px;width:176.2px;height:5.3px;background:#0ca11e;border-radius:3px"></div>
<div class="abs" style="left:1438.6px;top:487px;width:25.5px;height:5.3px;background:#d6101c;border-radius:3px"></div>
<div class="abs" style="left:1464.6px;top:487px;width:47px;height:5.3px;background:#ff6a0c;border-radius:3px"></div>
<div class="card" style="left:109.2px;top:513.8px;width:558.1px;height:385.5px;"></div>
<div class="t" style="left:119.3px;top:523.49px;font-size:13.3px;color:#111;font-weight:bold;letter-spacing:-0.051px;transform:scaleY(1.06);transform-origin:0 11.26px;">Parent Login Status</div>
<svg class="abs" style="left:640.6px;top:520.9px" width="18" height="18" viewBox="-9 -9 18 18"><g fill="#8a8a8a" transform="scale(1)"><path d="M0-8.2l3.3 3.7h-6.6zM0 8.2l-3.3-3.7h6.6zM-8.2 0l3.7-3.3v6.6zM8.2 0l-3.7 3.3v-6.6z"/><path d="M-.6-4.5h1.2v1.5h-1.2zM-.6 3h1.2v1.5h-1.2zM-4.5-.6h1.5v1.2h-1.5zM3-.6h1.5v1.2h-1.5z" opacity=".7"/></g></svg>
<svg class="abs" style="left:109px;top:514px" width="558" height="385.5" viewBox="109 514 558 385.5" fill="none">
<path d="M274.4 752.8A115.6 119.2 0 0 1 395.45 633.73L393.1 684.88A65.9 68 0 0 0 324.1 752.8Z" fill="#68a618" stroke="#68a618" stroke-width=".300"/>
<path d="M395.45 633.73A115.6 119.2 0 0 1 431.8 641.67L413.83 689.4A65.9 68 0 0 0 393.1 684.88Z" fill="#ff0a0a" stroke="#ff0a0a" stroke-width=".300"/>
<path d="M431.8 641.67A115.6 119.2 0 0 1 505.6 752.8L455.9 752.8A65.9 68 0 0 0 413.83 689.4Z" fill="#d4d6dd" stroke="#d4d6dd" stroke-width=".300"/>
<path d="M286.8 655.6H301.5L311 666.4" stroke="#8cbc4c" stroke-width="1.1"/>
<path d="M430.6 621.9H417.6L413 635.6" stroke="#ff2020" stroke-width="1.1"/>
<path d="M510.8 676.4H497.6L486 684.7" stroke="#d8dae0" stroke-width="1.1"/>
<rect x="240.4" y="853.9" width="23.1" height="13.1" rx="2.8" fill="#68a618"/>
<rect x="329" y="853.9" width="23.1" height="13.1" rx="2.8" fill="#ff0a0a"/>
<rect x="424.5" y="853.9" width="23.1" height="13.1" rx="2.8" fill="#d4d6dd"/>
</svg>
<div class="t" style="left:231.4px;top:648.79px;font-size:12px;color:#444;letter-spacing:-0.352px;">Logged in</div>
<div class="t" style="left:436.9px;top:615.29px;font-size:12px;color:#444;letter-spacing:-0.362px;">Logged out</div>
<div class="t" style="left:516.7px;top:670.59px;font-size:12px;color:#444;letter-spacing:-0.281px;">App Not Installed</div>
<div class="t" style="left:366.3px;top:735.95px;font-size:17.6px;color:#222;letter-spacing:-0.361px;">57215</div>
<div class="t" style="left:269.4px;top:854.19px;font-size:12px;color:#444;letter-spacing:-0.414px;">Logged in</div>
<div class="t" style="left:357.5px;top:854.19px;font-size:12px;color:#444;letter-spacing:-0.407px;">Logged out</div>
<div class="t" style="left:453px;top:854.19px;font-size:12px;color:#444;letter-spacing:-0.306px;">App Not Installed</div>
<div class="card" style="left:678.4px;top:513.8px;width:559.1px;height:385.5px;"></div>
<div class="t" style="left:688.5px;top:523.49px;font-size:13.3px;color:#111;font-weight:bold;letter-spacing:-0.01px;transform:scaleY(1.06);transform-origin:0 11.26px;">Checkpoint Status</div>
<svg class="abs" style="left:1210.6px;top:520.9px" width="18" height="18" viewBox="-9 -9 18 18"><g fill="#8a8a8a" transform="scale(1)"><path d="M0-8.2l3.3 3.7h-6.6zM0 8.2l-3.3-3.7h6.6zM-8.2 0l3.7-3.3v6.6zM8.2 0l-3.7 3.3v-6.6z"/><path d="M-.6-4.5h1.2v1.5h-1.2zM-.6 3h1.2v1.5h-1.2zM-4.5-.6h1.5v1.2h-1.5zM3-.6h1.5v1.2h-1.5z" opacity=".7"/></g></svg>
<svg class="abs" style="left:678px;top:514px" width="559.3" height="385.5" viewBox="678 514 559.3 385.5">
<path d="M897 575.4A138.5 143.2 0 0 1 1007.84 804.47L963.42 770.23A83 86.1 0 0 0 897 632.5Z" fill="#0cb30e" stroke="#0cb30e" stroke-width=".4"/><path d="M1007.84 804.47A138.5 143.2 0 0 1 758.68 725.95L814.11 723.02A83 86.1 0 0 0 963.42 770.23Z" fill="#ffd21e" stroke="#ffd21e" stroke-width=".4"/><path d="M758.68 725.95A138.5 143.2 0 0 1 761.51 688.9L815.81 700.74A83 86.1 0 0 0 814.11 723.02Z" fill="#ff4d00" stroke="#ff4d00" stroke-width=".4"/><path d="M761.51 688.9A138.5 143.2 0 0 1 892.41 575.48L894.25 632.55A83 86.1 0 0 0 815.81 700.74Z" fill="#2e98ff" stroke="#2e98ff" stroke-width=".4"/><path d="M892.41 575.48A138.5 143.2 0 0 1 897 575.4L897 632.5A83 86.1 0 0 0 894.25 632.55Z" fill="#ff6a28" stroke="#ff6a28" stroke-width=".4"/>
</svg>
<div class="t" style="left:859.5px;top:702.52px;font-size:30px;color:#444;font-family:'Liberation Serif',serif;font-weight:bold;">18201</div>
<div class="t" style="left:883.67px;top:731.43px;font-size:12.2px;color:#444;font-family:'Liberation Serif',serif;font-weight:bold;">Total</div>
<div class="abs" style="left:1106px;top:584.3px;width:116.6px;height:49.4px;background:#defbde;border:1px solid #c5efc5;border-radius:4px"></div><div class="t" style="left:1116px;top:594.22px;font-size:13.5px;color:#212529;">6413</div><div class="abs" style="left:1115px;top:615.8px;width:8px;height:8px;border-radius:50%;background:#0cb30e"></div><div class="t" style="left:1128.3px;top:613.25px;font-size:12.4px;color:#333;">Visited</div>
<div class="abs" style="left:1106px;top:639.6999999999999px;width:116.6px;height:49.4px;background:#fff8dc;border:1px solid #f3e9c0;border-radius:4px"></div><div class="t" style="left:1116px;top:649.62px;font-size:13.5px;color:#212529;">7089</div><div class="abs" style="left:1115px;top:671.1999999999999px;width:8px;height:8px;border-radius:50%;background:#ffc814"></div><div class="t" style="left:1128.3px;top:668.65px;font-size:12.4px;color:#333;">Upcoming</div>
<div class="abs" style="left:1106px;top:695.0999999999999px;width:116.6px;height:49.4px;background:#ffdcd2;border:1px solid #f6c6b8;border-radius:4px"></div><div class="t" style="left:1116px;top:705.02px;font-size:13.5px;color:#212529;">754</div><div class="abs" style="left:1115px;top:726.5999999999999px;width:8px;height:8px;border-radius:50%;background:#ff4d00"></div><div class="t" style="left:1128.3px;top:724.05px;font-size:12.4px;color:#333;">Unwanted</div>
<div class="abs" style="left:1106px;top:750.5px;width:116.6px;height:49.4px;background:#d9ebfd;border:1px solid #c2daf3;border-radius:4px"></div><div class="t" style="left:1116px;top:760.42px;font-size:13.5px;color:#212529;">3849</div><div class="abs" style="left:1115px;top:782px;width:8px;height:8px;border-radius:50%;background:#2e98ff"></div><div class="t" style="left:1128.3px;top:779.45px;font-size:12.4px;color:#333;">Missed</div>
<div class="abs" style="left:1106px;top:805.9px;width:116.6px;height:49.4px;background:#ffdccc;border:1px solid #f6c8b4;border-radius:4px"></div><div class="t" style="left:1116px;top:815.82px;font-size:13.5px;color:#212529;">96</div><div class="abs" style="left:1115px;top:837.4px;width:8px;height:8px;border-radius:50%;background:#ff6a28"></div><div class="t" style="left:1128.3px;top:834.85px;font-size:12.4px;color:#333;">Partially Visited</div>
<div class="card" style="left:1248.4px;top:513.8px;width:320px;height:188px;"></div>
<div class="t" style="left:1258.6px;top:523.49px;font-size:13.3px;color:#111;font-weight:bold;letter-spacing:-0.058px;transform:scaleY(1.06);transform-origin:0 11.26px;">Running Trip Status</div>
<svg class="abs" style="left:1258px;top:550px" width="60" height="44" viewBox="1258 550 60 44" fill="none" stroke-linecap="round" stroke-linejoin="round"><g fill="#0a8c6c"><path d="M1265.3 569q0-2.8 2.8-3.1q6.6-.700 13.2 0q2.8.300 2.8 3.1v16.8h-18.8z"/><rect x="1262.5" y="572.5" width="2.2" height="3.5" rx=".700"/><rect x="1284.7" y="572.5" width="2.2" height="3.5" rx=".700"/><rect x="1266" y="585" width="4.3" height="3.3" rx=".800"/><rect x="1279.1" y="585" width="4.3" height="3.3" rx=".800"/></g><g fill="#fff"><rect x="1267.3" y="569.8" width="6.6" height="7.6" rx=".500"/><rect x="1275.1" y="569.8" width="6.6" height="7.6" rx=".500"/><circle cx="1268.7" cy="581.5" r="1.3"/><circle cx="1280.3" cy="581.5" r="1.3"/><rect x="1271.2" y="580" width="6.6" height=".800"/><rect x="1271.2" y="581.5" width="6.6" height=".800"/><rect x="1271.2" y="583" width="6.6" height=".800"/></g><path d="M1296.6 564.9A5.75 5.75 0 0 0 1295.9 576.4H1300.3A5.45 5.45 0 0 1 1300.3 587.3H1290" stroke="#0a8c6c" stroke-width="2.2"/><path d="M1301.2 566.2c-3-3.3-5.2-5.6-5.2-8.2a5.2 5.2 0 0 1 10.4 0c0 2.6-2.2 4.9-5.2 8.2z" fill="#0a8c6c"/><circle cx="1301.2" cy="558.2" r="1.2" fill="#fff"/></svg>
<div class="abs" style="left:1262px;top:604.2px;width:300px;height:1px;background:#e6e6e6;"></div>
<div class="t" style="left:1262.3px;top:610.35px;font-size:12.3px;color:#222;font-family:'Liberation Serif',serif;font-weight:bold;letter-spacing:-0.628px;">On Time</div>
<div class="abs" style="left:1262px;top:625.6px;width:300px;height:9.4px;background:#eeeeee;border-radius:5px"></div>
<div class="abs" style="left:1262px;top:625.6px;width:203px;height:9.4px;background:;background:linear-gradient(#12b424,#0aa01a 60%,#078a14);border-radius:5px"></div>
<div class="t" style="left:1262.3px;top:638.05px;font-size:12.3px;color:#222;font-family:'Liberation Serif',serif;font-weight:bold;letter-spacing:-0.79px;">Delay</div>
<div class="abs" style="left:1262px;top:653.2px;width:300px;height:9.6px;background:;background:linear-gradient(#e01010,#cc0808 60%,#b00404);border-radius:5px"></div>
<div class="card" style="left:1248.5px;top:712.5px;width:320px;height:260px;"></div>
<div class="t" style="left:1258.6px;top:722.39px;font-size:13.3px;color:#111;font-weight:bold;letter-spacing:-0.165px;transform:scaleY(1.06);transform-origin:0 11.26px;">Faulty Devices</div>
<svg class="abs" style="left:1248.5px;top:712.5px" width="300" height="220" viewBox="1248.5 712.5 300 220">
<path d="M1330 771.7H1560" stroke="#e6e6e6" stroke-width="1"/><path d="M1325.2 771.7H1330" stroke="#b0b0b0" stroke-width="1"/>
<text x="1318.5" y="776.9000000000001" font-family="Liberation Sans, sans-serif" font-size="11" fill="#333" text-anchor="end">140</text>
<path d="M1330 807.1H1560" stroke="#e6e6e6" stroke-width="1"/><path d="M1325.2 807.1H1330" stroke="#b0b0b0" stroke-width="1"/>
<text x="1318.5" y="812.3000000000001" font-family="Liberation Sans, sans-serif" font-size="11" fill="#333" text-anchor="end">120</text>
<path d="M1330 842.5H1560" stroke="#e6e6e6" stroke-width="1"/><path d="M1325.2 842.5H1330" stroke="#b0b0b0" stroke-width="1"/>
<text x="1318.5" y="847.7" font-family="Liberation Sans, sans-serif" font-size="11" fill="#333" text-anchor="end">100</text>
<path d="M1330 877.9H1560" stroke="#e6e6e6" stroke-width="1"/><path d="M1325.2 877.9H1330" stroke="#b0b0b0" stroke-width="1"/>
<text x="1318.5" y="883.1" font-family="Liberation Sans, sans-serif" font-size="11" fill="#333" text-anchor="end">80</text>
<path d="M1330 913.3H1560" stroke="#e6e6e6" stroke-width="1"/><path d="M1325.2 913.3H1330" stroke="#b0b0b0" stroke-width="1"/>
<text x="1318.5" y="918.5" font-family="Liberation Sans, sans-serif" font-size="11" fill="#333" text-anchor="end">60</text>
<path d="M1330 771.7V940" stroke="#b0b0b0" stroke-width="1"/>
<rect x="1388.5" y="816.3" width="8.5" height="130" fill="#a83a24"/>
<text transform="translate(1289.8 926.5) rotate(-90)" font-family="Liberation Sans, sans-serif" font-weight="bold" font-size="11.8" fill="#222" text-anchor="middle">Number of Devices</text>
</svg>
</div></div>
<div class="abs" style="left:88px;top:927.3px;width:1448px;height:1.7px;background:#c6c6c6"></div>
<div class="abs" style="left:1535px;top:54px;width:1px;height:875px;background:#cfcfcf"></div>
<div class="abs" style="left:0;top:1px;width:1px;height:53px;background:#555"></div>
</div>
</body>
</html>
